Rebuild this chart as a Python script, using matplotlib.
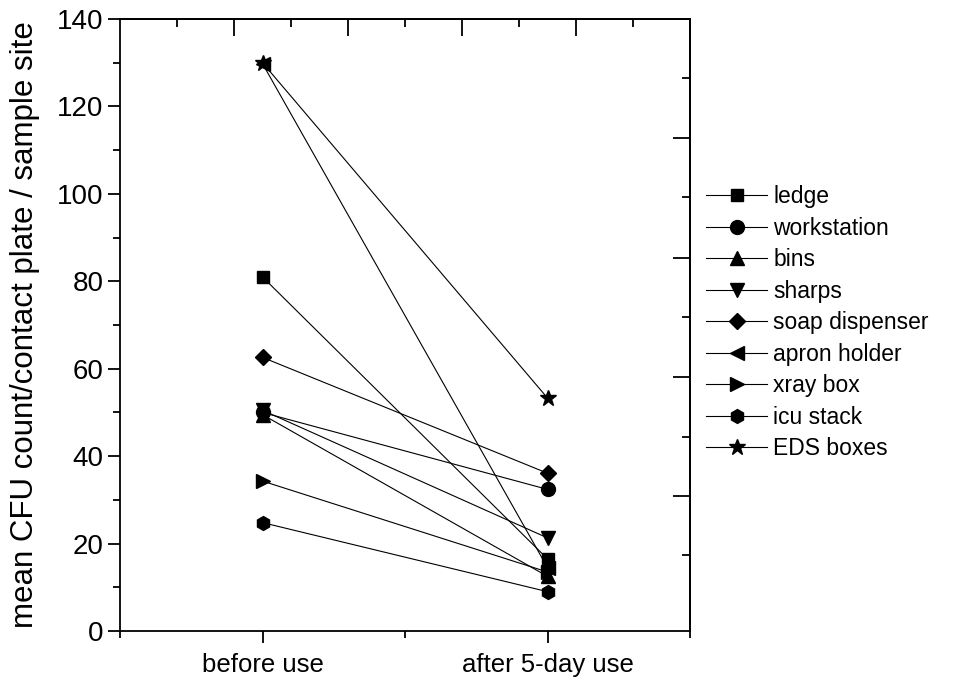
import matplotlib
matplotlib.use("Agg")
import matplotlib.pyplot as plt
from matplotlib.ticker import FixedLocator, NullFormatter

plt.rcParams['font.family'] = ['Liberation Sans', 'DejaVu Sans']

categories = ["before use", "after 5-day use"]
sites = ["ledge", "workstation", "bins", "sharps", "soap dispenser",
         "apron holder", "xray box", "icu stack", "EDS boxes"]
before = [81.0, 50.0, 49.5, 50.5, 62.6, 129.8, 34.3, 24.8, 130.0]
after = [16.5, 32.4, 12.5, 21.3, 36.1, 14.5, 13.5, 9.0, 53.3]
markers = ["s", "o", "^", "v", "D", "<", ">", "h", "*"]
msizes = [9, 10, 10, 10, 8, 10, 10, 10, 12]
yticks = [0, 20, 40, 60, 80, 100, 120, 140]

fig = plt.figure(figsize=(9.54, 6.83), dpi=100)
ax = fig.add_axes([0.1258, 0.0761, 0.5975, 0.8960])

xpos = [1, 2]
handles = []
for name, b, a, m, ms in zip(sites, before, after, markers, msizes):
    h, = ax.plot(xpos, [b, a], color="black", lw=0.8, marker=m, ms=ms,
                 mfc="black", mec="black", label=name)
    handles.append(h)

ax.set_xlim(0.5, 2.5)
ax.set_ylim(0, 140)
ax.set_xticks(xpos)
ax.set_xticklabels(categories, fontsize=18.5)
ax.xaxis.set_minor_locator(FixedLocator([0.5, 1.5, 2.5]))
ax.set_yticks(yticks)
ax.set_yticklabels([str(v) for v in yticks], fontsize=20)
ax.yaxis.set_minor_locator(FixedLocator([10, 30, 50, 70, 90, 110, 130]))
ax.tick_params(axis="both", which="major", direction="out", length=8.5, width=1.3,
               top=False, right=False, pad=3.5)
ax.tick_params(axis="both", which="minor", direction="out", length=5, width=1.3,
               top=False, right=False)
ax.tick_params(axis="x", pad=7)
ax.set_ylabel("mean CFU count/contact plate / sample site", fontsize=22.5, labelpad=12)
for s in ax.spines.values():
    s.set_linewidth(1.3)

# top axis (inward ticks, no labels)
sx = ax.secondary_xaxis("top")
sx.set_xticks([0.9, 1.3, 1.7, 2.1])
sx.xaxis.set_minor_locator(FixedLocator([0.7, 1.1, 1.5, 1.9, 2.3]))
sx.xaxis.set_major_formatter(NullFormatter())
sx.tick_params(which="major", direction="in", length=12, width=1.3)
sx.tick_params(which="minor", direction="in", length=6, width=1.3)
sx.spines["top"].set_linewidth(1.3)

# right axis (inward ticks, no labels)
sy = ax.secondary_yaxis("right")
sy.set_yticks([112.7, 85.4, 58.1, 31.0])
sy.yaxis.set_minor_locator(FixedLocator([126.5, 99.2, 71.8, 44.5, 17.4]))
sy.yaxis.set_major_formatter(NullFormatter())
sy.tick_params(which="major", direction="in", length=12, width=1.3)
sy.tick_params(which="minor", direction="in", length=6, width=1.3)
sy.spines["right"].set_linewidth(1.3)

leg = fig.legend(handles=handles, loc="upper left", bbox_to_anchor=(0.730, 0.742),
                 frameon=False, fontsize=16.5, handlelength=2.7, handletextpad=0.25,
                 labelspacing=0.37, markerscale=1.0, borderaxespad=0)

fig.savefig("out.png", dpi=100)
